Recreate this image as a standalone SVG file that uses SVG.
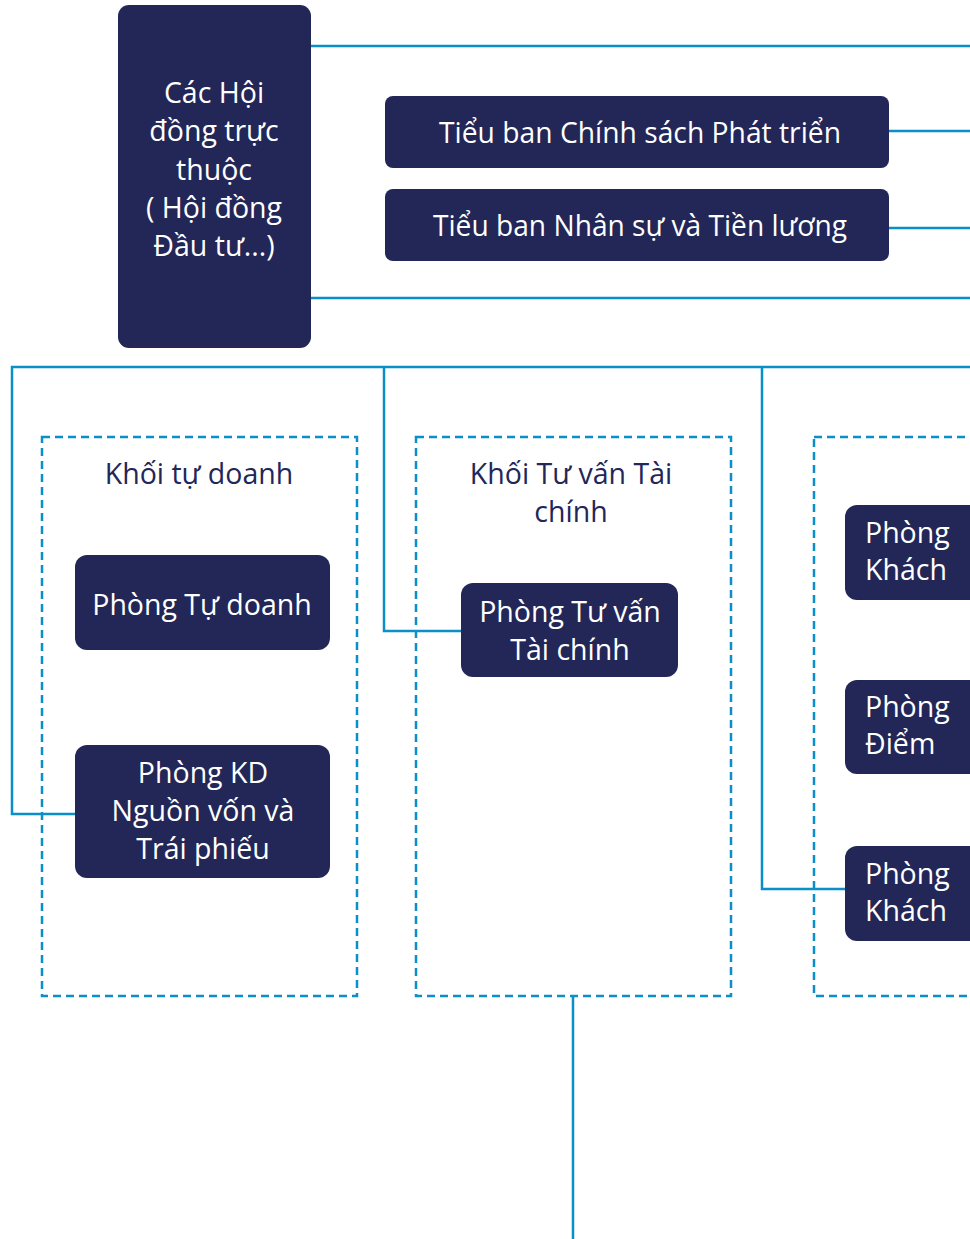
<svg xmlns="http://www.w3.org/2000/svg" width="970" height="1239" viewBox="0 0 970 1239">
<style>
.node{fill:#222758;}
.grp{fill:none;stroke:#0b8fc8;stroke-width:2.5;stroke-dasharray:8 5;}
.con{fill:none;stroke:#0b8fc8;stroke-width:2.5;}
.t{font-family:"Open Sans","Noto Sans","Liberation Sans",sans-serif;font-size:28.5px;fill:#ffffff;text-anchor:middle;}
.tl{font-family:"Open Sans","Noto Sans","Liberation Sans",sans-serif;font-size:28.5px;fill:#ffffff;}
.g{font-family:"Open Sans","Noto Sans","Liberation Sans",sans-serif;font-size:28.5px;fill:#222758;text-anchor:middle;}
</style>
<rect width="970" height="1239" fill="#ffffff"/>
<g id="connectors">
<path class="con" d="M311 46H970M311 298H970M889 131H970M889 228H970"/>
<path class="con" d="M970 367H12V814H75"/>
<path class="con" d="M384 367V631H461"/>
<path class="con" d="M762 367V889H845"/>
<path class="con" d="M573 996V1239"/>
</g>
<g id="group-tu-doanh">
<rect class="grp" x="42" y="437" width="315" height="559"/>
<text class="g" x="199" y="484">Khối tự doanh</text>
</g>
<g id="group-tu-van">
<rect class="grp" x="416" y="437" width="315" height="559"/>
<text class="g" x="571" y="484">Khối Tư vấn Tài</text>
<text class="g" x="571" y="522">chính</text>
</g>
<g id="group-right">
<rect class="grp" x="814" y="437" width="200" height="559"/>
</g>
<g id="hoi-dong">
<rect class="node" x="118" y="5" width="193" height="343" rx="11"/>
<text class="t" x="214" y="103">Các Hội</text>
<text class="t" x="214" y="141">đồng trực</text>
<text class="t" x="214" y="180">thuộc</text>
<text class="t" x="214" y="218">( Hội đồng</text>
<text class="t" x="214" y="256">Đầu tư...)</text>
</g>
<g id="tieu-ban-1">
<rect class="node" x="385" y="96" width="504" height="72" rx="8"/>
<text class="t" x="640" y="143" textLength="402" lengthAdjust="spacingAndGlyphs">Tiểu ban Chính sách Phát triển</text>
</g>
<g id="tieu-ban-2">
<rect class="node" x="385" y="189" width="504" height="72" rx="8"/>
<text class="t" x="640" y="236" textLength="414" lengthAdjust="spacingAndGlyphs">Tiểu ban Nhân sự và Tiền lương</text>
</g>
<g id="phong-tu-doanh">
<rect class="node" x="75" y="555" width="255" height="95" rx="12"/>
<text class="t" x="202" y="615">Phòng Tự doanh</text>
</g>
<g id="phong-kd">
<rect class="node" x="75" y="745" width="255" height="133" rx="12"/>
<text class="t" x="203" y="783">Phòng KD</text>
<text class="t" x="203" y="821">Nguồn vốn và</text>
<text class="t" x="203" y="859">Trái phiếu</text>
</g>
<g id="phong-tu-van">
<rect class="node" x="461" y="583" width="217" height="94" rx="12"/>
<text class="t" x="570" y="622">Phòng Tư vấn</text>
<text class="t" x="570" y="660">Tài chính</text>
</g>
<g id="phong-khach-1">
<rect class="node" x="845" y="505" width="160" height="95" rx="12"/>
<text class="tl" x="865" y="543">Phòng</text>
<text class="tl" x="865" y="580">Khách</text>
</g>
<g id="phong-diem">
<rect class="node" x="845" y="680" width="160" height="94" rx="12"/>
<text class="tl" x="865" y="717">Phòng</text>
<text class="tl" x="865" y="754">Điểm</text>
</g>
<g id="phong-khach-2">
<rect class="node" x="845" y="846" width="160" height="95" rx="12"/>
<text class="tl" x="865" y="884">Phòng</text>
<text class="tl" x="865" y="921">Khách</text>
</g>
</svg>
